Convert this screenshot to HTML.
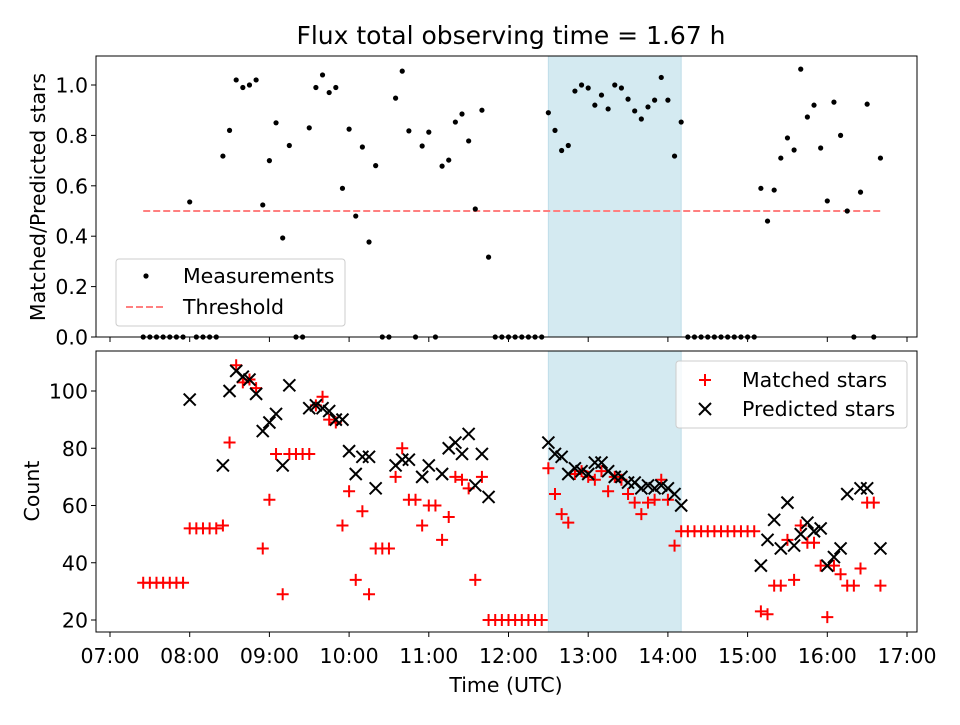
<!DOCTYPE html>
<html><head><meta charset="utf-8"><style>
body{margin:0;background:#fff;font-family:"Liberation Sans","DejaVu Sans",sans-serif;}
svg text{font-family:"DejaVu Sans","Liberation Sans",sans-serif;}
</style></head><body>
<svg id="chart" width="960" height="720" viewBox="0 0 960 720" xmlns="http://www.w3.org/2000/svg">
<rect width="960" height="720" fill="#fff"/>
<text x="511" y="44" font-size="25" text-anchor="middle">Flux total observing time = 1.67 h</text>
<g id="topPanel"></g><g id="botPanel"></g>
</svg>
<script>
const times = ["07:25","07:30","07:35","07:40","07:45","07:50","07:55","08:00","08:05","08:10","08:15","08:20","08:25","08:30","08:35","08:40","08:45","08:50","08:55","09:00","09:05","09:10","09:15","09:20","09:25","09:30","09:35","09:40","09:45","09:50","09:55","10:00","10:05","10:10","10:15","10:20","10:25","10:30","10:35","10:40","10:45","10:50","10:55","11:00","11:05","11:10","11:15","11:20","11:25","11:30","11:35","11:40","11:45","11:50","11:55","12:00","12:05","12:10","12:15","12:20","12:25","12:30","12:35","12:40","12:45","12:50","12:55","13:00","13:05","13:10","13:15","13:20","13:25","13:30","13:35","13:40","13:45","13:50","13:55","14:00","14:05","14:10","14:15","14:20","14:25","14:30","14:35","14:40","14:45","14:50","14:55","15:00","15:05","15:10","15:15","15:20","15:25","15:30","15:35","15:40","15:45","15:50","15:55","16:00","16:05","16:10","16:15","16:20","16:25","16:30","16:35","16:40"];
const ratio = [0,0,0,0,0,0,0,0.536,0,0,0,0,0.718,0.82,1.02,0.99,1.0,1.02,0.524,0.70,0.85,0.393,0.76,0,0,0.83,0.99,1.04,0.97,0.99,0.59,0.825,0.48,0.754,0.377,0.68,0,0,0.948,1.055,0.818,0,0.758,0.813,0,0.678,0.702,0.853,0.885,0.778,0.508,0.90,0.317,0,0,0,0,0,0,0,0,0.89,0.82,0.74,0.76,0.976,1.0,0.988,0.92,0.96,0.905,1.0,0.988,0.944,0.897,0.865,0.913,0.94,1.03,0.94,0.718,0.853,0,0,0,0,0,0,0,0,0,0,0,0.59,0.46,0.583,0.71,0.79,0.742,1.063,0.873,0.92,0.75,0.54,0.932,0.8,0.5,0,0.575,0.924,0,0.71];
const matched = [33,33,33,33,33,33,33,52,52,52,52,52,53,82,109,103,104,101,45,62,78,29,78,78,78,78,95,98,90,89,53,65,34,58,29,45,45,45,70,80,62,62,53,60,60,48,56,70,69,66,34,70,20,20,20,20,20,20,20,20,20,73,64,57,54,71,72,70,69,72,65,70,69,64,61,57,61,62,69,62,46,51,51,51,51,51,51,51,51,51,51,51,51,23,22,32,32,48,34,53,47,47,39,21,39,36,32,32,38,61,61,32];
const predicted = [null,null,null,null,null,null,null,97,null,null,null,null,74,100,107,105,104,99,86,89,92,74,102,null,null,94,95,94,93,90,90,79,71,77,77,66,null,null,74,76,76,null,70,74,null,71,80,82,78,85,67,78,63,null,null,null,null,null,null,null,null,82,78,77,71,73,72,71,75,75,72,70,70,68,68,66,67,66,67,66,64,60,null,null,null,null,null,null,null,null,null,null,null,39,48,55,45,61,46,50,54,51,52,39,42,45,64,null,66,66,null,45];
const threshold = 0.5;
const spanStart = "12:30", spanEnd = "14:10";
const xTicks = ["07:00","08:00","09:00","10:00","11:00","12:00","13:00","14:00","15:00","16:00","17:00"];
const topTicks = [0,0.2,0.4,0.6,0.8,1.0];
const botTicks = [20,40,60,80,100];

const NS="http://www.w3.org/2000/svg";
const FS=20.5, M=6;
function hrs(t){const p=t.split(":");return +p[0]+ +p[1]/60;}
function X(t){return 110+(hrs(t)-7)*79.7;}
function YT(v){return 337-v*252;}
function YB(v){return 620-(v-20)*2.8625;}
function mk(par,tag,at){const e=document.createElementNS(NS,tag);for(const k in at)e.setAttribute(k,at[k]);par.appendChild(e);return e;}
const topG=document.getElementById('topPanel'), botG=document.getElementById('botPanel');

function panel(g,y0,y1,name){
  let r=mk(g,'rect',{x:96,y:y0,width:821,height:y1-y0,fill:'#fff'});
  
  
  let s=mk(g,'rect',{x:X(spanStart),y:y0,width:X(spanEnd)-X(spanStart),height:y1-y0,fill:'#d4eaf1',stroke:'#bfdde8','stroke-width':1});
  
  
}
panel(topG,56,337,'top');
panel(botG,351,632,'bottom');

let th=mk(topG,'line',{x1:X(times[0]),x2:X(times[times.length-1]),y1:YT(threshold),y2:YT(threshold),stroke:'#ff8080','stroke-width':2,'stroke-dasharray':'7,3'});



times.forEach((t,i)=>{
  const c=mk(topG,'circle',{cx:X(t),cy:YT(ratio[i]),r:2.6,fill:'#000'});
  
  
});
times.forEach((t,i)=>{
  const x=X(t),y=YB(matched[i]);
  const p=mk(botG,'path',{d:`M${x-M},${y}H${x+M}M${x},${y-M}V${y+M}`,stroke:'#f00','stroke-width':2,fill:'none'});
  
  
});
times.forEach((t,i)=>{
  if(predicted[i]==null)return;
  const x=X(t),y=YB(predicted[i]);
  const p=mk(botG,'path',{d:`M${x-M},${y-M}L${x+M},${y+M}M${x-M},${y+M}L${x+M},${y-M}`,stroke:'#000','stroke-width':2,fill:'none'});
  
  
});

[[topG,56,337],[botG,351,632]].forEach(([g,y0,y1])=>{
  const f=mk(g,'rect',{x:96,y:y0,width:821,height:y1-y0,fill:'none',stroke:'#000','stroke-width':1});
  
  
  xTicks.forEach(t=>{
    const l=mk(g,'line',{x1:X(t),x2:X(t),y1:y1,y2:y1+5,stroke:'#000','stroke-width':1});
    
    
  });
});
xTicks.forEach(t=>{
  const tx=mk(botG,'text',{x:X(t),y:663,'font-size':FS,'text-anchor':'middle'});tx.textContent=t;
  
  
});
topTicks.forEach(v=>{
  const l=mk(topG,'line',{x1:91,x2:96,y1:YT(v),y2:YT(v),stroke:'#000'});
  
  
  const tx=mk(topG,'text',{x:88,y:YT(v)+7.5,'font-size':FS,'text-anchor':'end'});tx.textContent=v.toFixed(1);
  
  
});
botTicks.forEach(v=>{
  const l=mk(botG,'line',{x1:91,x2:96,y1:YB(v),y2:YB(v),stroke:'#000'});
  
  
  const tx=mk(botG,'text',{x:88,y:YB(v)+7.5,'font-size':FS,'text-anchor':'end'});tx.textContent=v;
  
  
});
let a=mk(botG,'text',{x:506,y:692,'font-size':FS,'text-anchor':'middle'});a.textContent='Time (UTC)';


a=mk(topG,'text',{x:0,y:0,'font-size':FS,'text-anchor':'middle',transform:'translate(45,197) rotate(-90)'});a.textContent='Matched/Predicted stars';


a=mk(botG,'text',{x:0,y:0,'font-size':FS,'text-anchor':'middle',transform:'translate(39,491) rotate(-90)'});a.textContent='Count';



let lg=mk(topG,'rect',{x:116,y:259,width:229,height:67,rx:3,fill:'#fff','fill-opacity':0.8,stroke:'#ccc'});


let e=mk(topG,'circle',{cx:146,cy:276,r:2.6,fill:'#000'});


e=mk(topG,'text',{x:183,y:283,'font-size':FS});e.textContent='Measurements';


e=mk(topG,'line',{x1:126,x2:166,y1:307,y2:307,stroke:'#ff8080','stroke-width':2,'stroke-dasharray':'7,3'});


e=mk(topG,'text',{x:183,y:314,'font-size':FS});e.textContent='Threshold';



lg=mk(botG,'rect',{x:676,y:361,width:231,height:67,rx:3,fill:'#fff','fill-opacity':0.8,stroke:'#ccc'});


e=mk(botG,'path',{d:'M699,380H711M705,374V386',stroke:'#f00','stroke-width':2});


e=mk(botG,'text',{x:742,y:387,'font-size':FS});e.textContent='Matched stars';


e=mk(botG,'path',{d:'M699,403L711,415M699,415L711,403',stroke:'#000','stroke-width':2});


e=mk(botG,'text',{x:742,y:416,'font-size':FS});e.textContent='Predicted stars';


</script>
</body></html>
